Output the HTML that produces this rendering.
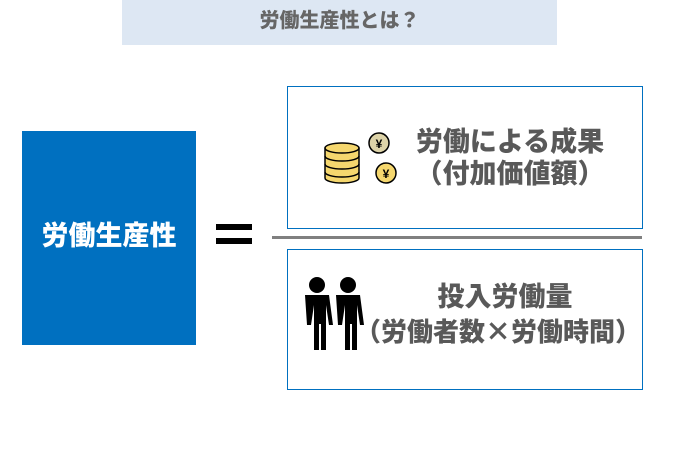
<!DOCTYPE html>
<html><head><meta charset="utf-8"><style>
body{margin:0;width:680px;height:454px;background:#fff;position:relative;overflow:hidden;font-family:"Liberation Sans","Noto Sans CJK JP",sans-serif;font-weight:900;color:#595959}
.a{position:absolute}
</style></head><body>
<div class="a" style="left:122px;top:0;width:435px;height:45px;background:#dde7f3;text-align:center;line-height:42px;font-size:20px;color:#666">労働生産性とは？</div>
<div class="a" style="left:22px;top:131px;width:174px;height:214px;background:#0070c0;color:#fff;font-size:27px;text-align:center;line-height:210px">労働生産性</div>
<div class="a" style="left:216px;top:224px;width:36px;height:6px;background:#000"></div>
<div class="a" style="left:216px;top:238px;width:36px;height:6px;background:#000"></div>
<div class="a" style="left:272px;top:236px;width:370px;height:3px;background:#808080"></div>
<div class="a" style="left:287px;top:86px;width:354px;height:141px;border:1px solid #0070c0"></div>
<div class="a" style="left:287px;top:249px;width:354px;height:139px;border:1px solid #0070c0"></div>
<div class="a" style="left:390px;top:126px;width:240px;text-align:center;font-size:27px;line-height:32px">労働による成果<br>（付加価値額）</div>
<div class="a" style="left:355px;top:280px;width:300px;text-align:center;font-size:27px;line-height:34px;white-space:nowrap">投入労働量<br><span style="margin-left:-14px;font-size:26px">（労働者数<span style="font-family:'Noto Sans CJK JP'">×</span>労働時間）</span></div>
<svg class="a" style="left:0;top:0" width="680" height="454">
<g stroke="#000" stroke-width="1.5" fill="#f5d76e">
<path d="M325 148 v30 a17 5 0 0 0 34 0 v-30"/>
<ellipse cx="342" cy="148" rx="17" ry="5"/>
<path d="M325 156 a17 5 0 0 0 34 0 M325 164 a17 5 0 0 0 34 0 M325 172 a17 5 0 0 0 34 0" fill="none"/>
<circle cx="379" cy="143" r="10" fill="#ddd3a8"/>
<circle cx="386" cy="173" r="10"/>
</g>
<text x="379" y="148" font-size="12" text-anchor="middle" fill="#000" font-family="Liberation Sans">¥</text>
<text x="386" y="178" font-size="12" text-anchor="middle" fill="#000" font-family="Liberation Sans">¥</text>
<g fill="#000">
<circle cx="317" cy="285" r="8"/><circle cx="348" cy="285" r="8"/>
<path d="M305 295 h24 l4 30 h-4 l-3-20 v45 h-5 v-26 h-2 v26 h-5 v-45 l-3 20 h-4z"/>
<path d="M336 295 h24 l4 30 h-4 l-3-20 v45 h-5 v-26 h-2 v26 h-5 v-45 l-3 20 h-4z"/>
</g>
</svg>
</body></html>
